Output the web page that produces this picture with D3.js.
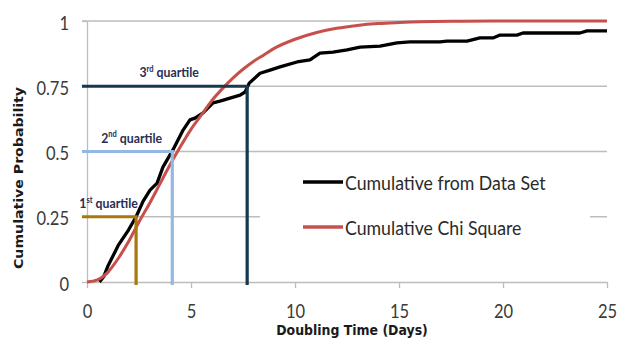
<!DOCTYPE html>
<html>
<head>
<meta charset="utf-8">
<script src="https://cdn.jsdelivr.net/npm/d3@7/dist/d3.min.js"></script>
<style>
  body { margin: 0; background: #fff; }
  svg { display: block; }
</style>
</head>
<body>
<div id="chart"></div>
<script>
// ticks
const xTicks = [0, 5, 10, 15, 20, 25];
const yTicks = [0, 0.25, 0.5, 0.75, 1];

const dataDays = [0.6, 0.8, 1.0, 1.5, 2.0, 2.36, 2.7, 3.03, 3.37, 3.65, 4.13, 4.62, 4.95, 5.19, 5.58, 6.06, 6.39, 7.36, 7.6, 7.8, 8.32, 8.8, 9.28, 10.1, 10.72, 11.2, 11.83, 12.5, 13.13, 14.09, 14.9, 15.53, 16.97, 17.3, 18.27, 18.89, 19.52, 19.86, 20.67, 20.96, 23.7, 24.04, 25];
const dataProb = [0, 0.02, 0.06, 0.14, 0.2, 0.25, 0.31, 0.352, 0.379, 0.44, 0.506, 0.582, 0.621, 0.628, 0.648, 0.686, 0.693, 0.716, 0.728, 0.762, 0.8, 0.812, 0.824, 0.843, 0.851, 0.877, 0.881, 0.889, 0.9, 0.904, 0.916, 0.92, 0.92, 0.923, 0.923, 0.935, 0.935, 0.946, 0.946, 0.954, 0.954, 0.962, 0.962];

// chi square cumulative curve (red)
const chiDays = [0, 0.5, 1, 1.5, 2, 2.5, 3, 3.5, 4, 4.5, 5, 5.5, 6, 6.5, 7, 7.5, 8, 8.5, 9, 10, 11, 12, 13, 14, 15, 16, 18, 20, 25];
const chiProb = [0, 0.008, 0.037, 0.09, 0.155, 0.23, 0.3, 0.375, 0.45, 0.52, 0.585, 0.64, 0.695, 0.74, 0.78, 0.815, 0.845, 0.87, 0.895, 0.93, 0.955, 0.972, 0.983, 0.99, 0.994, 0.997, 0.999, 1, 1];

// quartiles
const quartileProb = [0.25, 0.5, 0.75];
const quartileDays = [2.36, 4.1, 7.7];
const quartileNum = ['1', '2', '3'];
const quartileSup = ['st', 'nd', 'rd'];
const quartileColors = ['#a8780c', '#95b8e0', '#153a4e'];

const seriesNames = ['Cumulative from Data Set', 'Cumulative Chi Square'];
const seriesColors = ['#000000', '#c8504c'];

const W = 619, H = 338;
const margin = { top: 21, right: 12, bottom: 56, left: 87 };
const SY = 1.13; // source picture is a bit stretched vertically

const svg = d3.select('#chart').append('svg')
  .attr('width', W)
  .attr('height', H);

const xScale = d3.scaleLinear().domain([0, 25]).range([margin.left, W - margin.right]);
const yScale = d3.scaleLinear().domain([0, 1]).range([H - margin.bottom, margin.top]);

// gridlines
svg.append('g')
  .selectAll('line')
  .data(yTicks.filter(d => d > 0))
  .enter().append('line')
  .attr('x1', xScale(0) - 5)
  .attr('x2', xScale(25))
  .attr('y1', d => yScale(d))
  .attr('y2', d => yScale(d))
  .attr('stroke', '#bdbdbd')
  .attr('stroke-width', 1.3);

// x axis
const xAxis = svg.append('g')
  .attr('transform', `translate(0, ${yScale(0)})`)
  .call(d3.axisBottom(xScale).tickValues(xTicks).tickSize(6).tickSizeOuter(0).tickFormat(d3.format('d')));
// y axis
const yAxis = svg.append('g')
  .attr('transform', `translate(${xScale(0)}, 0)`)
  .call(d3.axisLeft(yScale).tickValues(yTicks).tickSize(5).tickSizeOuter(0).tickFormat(d => String(d)));

[xAxis, yAxis].forEach(ax => {
  ax.select('.domain').attr('stroke', '#bdbdbd').attr('stroke-width', 1.3);
  ax.selectAll('.tick line').attr('stroke', '#bdbdbd').attr('stroke-width', 1.3);
  ax.selectAll('.tick text')
    .attr('font-family', 'Lato, sans-serif')
    .attr('font-size', 16.5)
    .attr('fill', '#3a3a3a')
    .attr('dy', null)
    .attr('y', 0);
});
xAxis.selectAll('.tick text')
  .attr('x', 0)
  .attr('transform', `translate(0, 36) scale(1, ${SY})`);
yAxis.selectAll('.tick text')
  .attr('x', 0)
  .attr('text-anchor', 'end')
  .attr('transform', `translate(-18, 8) scale(1, ${SY})`);

// axis titles
svg.append('text')
  .attr('transform', `translate(352, 335) scale(1, ${SY})`)
  .attr('text-anchor', 'middle')
  .attr('font-family', 'DejaVu Sans, sans-serif')
  .attr('font-weight', 'bold')
  .attr('font-size', 12.5)
  .attr('fill', '#1a1a1a')
  .text('Doubling Time (Days)');

svg.append('text')
  .attr('transform', `translate(23, 178) scale(1, ${SY}) rotate(-90)`)
  .attr('text-anchor', 'middle')
  .attr('font-family', 'DejaVu Sans, sans-serif')
  .attr('font-weight', 'bold')
  .attr('font-size', 12.5)
  .attr('fill', '#1a1a1a')
  .text('Cumulative Probability');

// legend box (white background hides the 0.25 gridline)
const legend = svg.append('g');
legend.append('rect')
  .attr('x', 260).attr('y', 158)
  .attr('width', 330).attr('height', 100)
  .attr('fill', '#fff');

seriesNames.forEach((name, i) => {
  const ly = 182 + i * 45;
  legend.append('line')
    .attr('x1', 303).attr('x2', 343)
    .attr('y1', ly).attr('y2', ly)
    .attr('stroke', seriesColors[i])
    .attr('stroke-width', 3.5);
  legend.append('text')
    .attr('transform', `translate(345, ${ly + 8}) scale(1, ${SY})`)
    .attr('font-family', 'Lato, sans-serif')
    .attr('font-size', 17.7)
    .attr('fill', '#2a2a2a')
    .text(name);
});

// curves
const line = d3.line()
  .x(d => xScale(d[0]))
  .y(d => yScale(d[1]));

svg.append('path')
  .datum(d3.zip(dataDays, dataProb))
  .attr('d', line)
  .attr('fill', 'none')
  .attr('stroke', seriesColors[0])
  .attr('stroke-width', 3.3)
  .attr('stroke-linejoin', 'round');

svg.append('path')
  .datum(d3.zip(chiDays, chiProb))
  .attr('d', line.curve(d3.curveMonotoneX))
  .attr('fill', 'none')
  .attr('stroke', seriesColors[1])
  .attr('stroke-width', 3);

// quartile markers
quartileProb.forEach((p, i) => {
  const g = svg.append('g');
  const qx = xScale(quartileDays[i]);
  const qy = yScale(p);
  g.append('polyline')
    .attr('points', [[xScale(0) - 5, qy], [qx, qy], [qx, yScale(0) + 3]].join(' '))
    .attr('fill', 'none')
    .attr('stroke', quartileColors[i])
    .attr('stroke-width', 3.2);

  const label = g.append('text')
    .attr('transform', `translate(${(xScale(0) + qx) / 2 + 2 - (i === 0 ? 5 : 0)}, ${qy - 9}) scale(1, ${SY})`)
    .attr('text-anchor', 'middle')
    .attr('font-family', 'Lato, sans-serif')
    .attr('font-weight', 'bold')
    .attr('font-size', 12.3)
    .attr('fill', '#2a2d52');
  label.append('tspan').text(quartileNum[i]);
  label.append('tspan')
    .attr('font-size', 7.5)
    .attr('dy', -4.5)
    .text(quartileSup[i]);
  label.append('tspan')
    .attr('dy', 4.5)
    .text(' quartile');
});
</script>
</body>
</html>
